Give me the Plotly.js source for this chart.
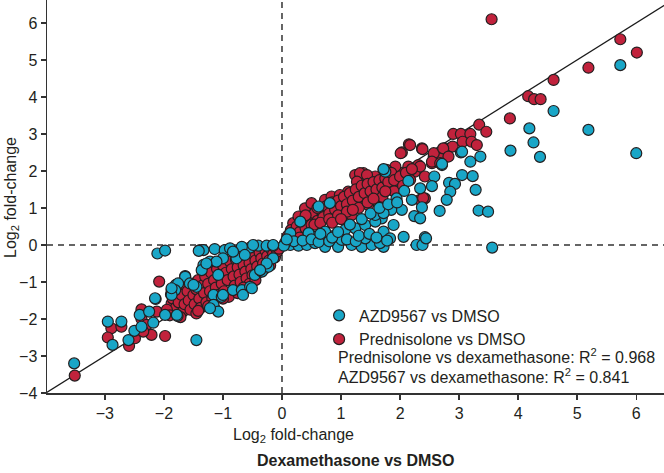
<!DOCTYPE html>
<html>
<head>
<meta charset="utf-8">
<script src="https://cdn.plot.ly/plotly-3.0.1.min.js"></script>
<style>html,body{margin:0;padding:0;background:#fff;}#chart{width:664px;height:473px;}</style>
</head>
<body>
<div id="chart"></div>
<script>
// Prednisolone vs DMSO (x = dexamethasone log2FC, y = prednisolone log2FC)
const predX = [-3.51,-2.89,-2.72,-2.95,-2.59,-2.49,-2.38,-2.38,-2.21,-1.98,-2.12,-2.29,-2.35,-1.84,-1.73,-1.78,-1.62,-1.62,-1.87,-2.08,
-1.85,-1.80,-1.75,-1.70,-1.68,-1.65,-1.60,-1.58,-1.55,-1.52,-1.50,-1.48,-1.45,-1.42,-1.40,-1.38,-1.35,-1.32,-1.30,-1.28,-1.25,-1.22,-1.20,-1.18,-1.15,-1.12,-1.10,-1.08,-1.05,-1.02,-1.00,-0.98,-0.95,-0.92,-0.90,-0.88,-0.85,-0.82,-0.80,-0.78,-0.75,-0.72,-0.70,-0.68,-0.65,-0.62,-0.60,-0.58,-0.55,-0.52,-0.50,-0.48,-0.45,-0.42,-0.40,-0.38,-0.35,-0.32,-0.30,-0.28,-0.25,-0.22,-0.20,-0.18,-0.15,-0.12,-0.10,-0.08,-0.05,-1.95,-1.90,-1.72,-1.45,-1.25,-1.00,-0.55,-0.45,-0.65,-0.75,-1.15,-1.42,
0.19,0.28,0.39,0.50,0.73,0.84,0.98,1.12,1.24,1.38,1.29,1.58,1.27,1.46,1.58,1.18,
1.63,1.80,1.72,1.92,1.86,2.03,2.25,2.14,2.31,2.42,2.54,2.57,2.71,2.03,2.15,2.37,2.76,2.89,2.90,3.03,3.19,3.06,3.21,3.30,2.42,1.63,
2.17,2.01,2.38,3.34,3.46,3.86,4.17,4.27,4.38,4.60,5.19,5.73,6.01,3.55,
2.57,2.73,2.82,2.54,2.68,2.34,1.92,1.77,1.32,1.44,1.27,2.34,2.17,2.00,1.72,2.39,
0.10,0.15,0.20,0.25,0.30,0.35,0.40,0.45,0.50,0.55,0.60,0.65,0.70,0.75,0.80,0.85,0.90,0.95,1.00,1.05,1.10,1.15,1.20,1.25,1.30,1.35,1.40,1.45,1.50,1.55,1.60,1.65,1.70,1.75,1.80,1.85,1.90,2.00,2.10,2.20,0.55,0.65,0.80,0.95,1.10,1.30,1.45,1.70,1.90,2.05,0.40,0.60,0.85,1.00,0.30,0.45,1.20,1.55,1.75];
const predY = [-3.53,-2.25,-2.21,-2.50,-2.73,-2.52,-1.74,-2.00,-2.43,-2.46,-1.80,-2.16,-2.34,-1.76,-1.49,-1.31,-1.40,-1.12,-1.58,-0.99,
-1.45,-1.70,-1.55,-1.35,-1.80,-1.60,-1.25,-1.50,-1.75,-1.05,-1.35,-1.60,-1.20,-0.95,-1.45,-1.70,-1.10,-1.30,-0.85,-1.55,-1.05,-1.25,-0.75,-1.45,-0.95,-1.15,-0.65,-1.35,-0.85,-1.05,-0.55,-1.25,-0.75,-0.95,-1.40,-0.45,-0.65,-0.85,-1.10,-0.40,-0.60,-0.80,-1.00,-0.35,-0.55,-0.72,-0.90,-0.30,-0.48,-0.65,-0.82,-0.25,-0.42,-0.58,-0.75,-0.20,-0.36,-0.50,-0.65,-0.15,-0.30,-0.42,-0.55,-0.12,-0.24,-0.34,-0.08,-0.18,-0.10,-1.75,-1.90,-1.95,-1.85,-1.65,-1.45,-1.05,-0.95,-1.15,-1.30,-1.70,-1.78,
0.59,0.77,0.99,1.13,1.22,1.31,1.35,1.44,1.89,1.94,1.71,1.85,1.17,1.08,1.31,0.81,
1.67,1.62,2.03,2.03,1.85,1.94,1.98,2.12,2.16,1.85,2.21,2.39,2.34,2.50,2.72,2.61,2.61,2.66,3.00,3.00,3.00,2.79,2.79,2.70,1.26,1.22,
2.70,2.48,2.59,3.25,3.06,3.42,4.02,3.94,3.94,4.46,4.79,5.56,5.20,6.10,
2.48,2.61,2.39,2.25,2.21,2.12,2.12,2.03,1.94,1.89,1.71,1.22,1.76,1.53,1.44,1.27,
0.25,0.40,0.30,0.50,0.35,0.60,0.45,0.75,0.55,0.85,0.65,0.95,0.75,1.05,0.85,1.15,0.95,1.20,1.05,1.30,1.10,1.40,1.20,1.50,1.30,1.60,1.40,1.65,1.45,1.70,1.50,1.75,1.55,1.80,1.70,1.95,1.75,1.85,1.95,2.05,0.55,0.60,0.70,0.80,0.90,1.00,1.15,1.30,1.45,1.60,0.80,1.00,0.60,0.70,0.20,0.30,0.95,1.25,1.45];

// AZD9567 vs DMSO
const azdX = [5.73,4.60,5.19,4.19,4.26,3.87,4.37,6.00,3.56,
3.03,3.19,3.36,2.71,2.58,3.05,3.23,1.75,2.14,2.34,2.54,2.83,2.93,2.85,2.79,3.28,2.67,3.33,3.49,2.07,1.94,2.20,2.37,2.24,2.34,2.03,1.85,1.69,1.89,1.69,1.72,2.06,2.42,2.28,2.38,1.83,1.72,2.44,2.71,3.05,1.72,
0.14,0.28,0.42,0.56,0.73,0.95,1.18,1.35,1.52,1.66,0.14,0.31,0.62,0.81,0.73,0.90,1.07,1.24,1.41,1.58,1.58,1.72,1.41,1.01,0.56,0.45,
0.20,0.35,0.50,0.62,0.80,0.85,1.10,1.25,1.30,1.48,1.60,1.78,0.65,0.95,1.15,1.35,1.50,1.65,1.80,1.95,0.05,0.03,0.08,
-2.11,-1.98,-3.52,-2.95,-2.72,-2.87,-2.60,-2.50,-2.38,-2.41,-2.25,-2.18,-2.14,-1.98,-1.88,-1.87,-1.77,-1.80,-1.64,-1.45,
-1.39,-1.33,-1.14,-0.97,-0.80,-0.54,-0.40,-0.26,-0.15,-0.49,-0.68,-0.88,-1.64,-1.76,-1.81,-1.87,-1.56,-1.45,-1.33,-1.22,-1.36,-1.16,-1.02,-1.16,-1.08,-1.78,-0.83,-0.68,-0.54,-0.46,-0.34,-0.23,-0.15,-0.77,-1.00,-0.63,-1.08,
-0.83,-0.15,-0.26,-0.37,-0.51,-0.66,-1.22,-1.00,-1.50,-1.87,-1.11,-1.28,-1.41,-2.15];
const azdY = [4.86,3.62,3.11,3.15,2.77,2.55,2.38,2.48,-0.07,
2.50,2.25,2.39,2.16,1.85,1.89,1.86,1.98,1.73,1.53,1.59,1.68,1.65,1.44,1.22,1.49,0.92,0.93,0.90,1.46,1.26,1.22,1.02,0.78,0.72,0.95,0.95,0.99,0.54,0.72,0.36,0.22,0.21,0.00,0.00,0.18,-0.05,0.18,2.19,2.52,2.05,
0.00,-0.02,0.00,0.05,-0.05,-0.05,0.00,-0.05,0.00,0.05,0.32,0.63,1.04,1.13,0.36,0.27,0.41,0.45,0.54,0.63,0.81,0.86,0.18,0.14,0.22,0.32,
0.10,0.12,0.15,0.08,0.10,0.20,0.15,0.10,0.25,0.30,0.20,0.12,0.30,0.35,0.55,0.70,0.85,1.00,1.10,1.15,0.05,-0.02,0.15,
-0.23,-0.15,-3.20,-2.07,-2.07,-2.70,-2.57,-2.32,-2.21,-1.89,-1.80,-2.10,-1.46,-1.89,-1.33,-1.22,-1.92,-1.08,-0.84,-2.57,
-0.14,-0.14,-0.11,-0.14,-0.18,-0.07,-0.02,-0.02,-0.02,0.00,-0.05,-0.09,-0.86,-1.04,-1.22,-1.35,-1.04,-1.13,-0.54,-0.45,-0.68,-1.35,-1.40,-1.62,-1.80,-1.89,-1.22,-1.22,-1.13,-0.81,-0.72,-0.59,-0.36,-0.36,-0.36,-0.27,-0.81,
-0.18,0.00,-0.50,-0.68,-1.17,-1.35,-1.71,-1.35,-1.08,-1.17,-0.45,-0.50,-0.16,-1.44];

// identity reference line
const diagX = [-4, 6.6];
const diagY = [-4, 6.6];

const xTicks = [-3,-2,-1,0,1,2,3,4,5,6];
const yTicks = [-4,-3,-2,-1,0,1,2,3,4,5,6];

const FONT = 'Liberation Sans, Arial, sans-serif';
const TXT = '#231f20';
const RED = '#c1223c';
const CYAN = '#19a6c7';

const traces = [
  {x: diagX, y: diagY, mode: 'lines', line: {color: '#1a1a1a', width: 1.3}, showlegend: false, hoverinfo: 'skip'},
  {x: predX, y: predY, mode: 'markers', name: 'Prednisolone vs DMSO',
   marker: {color: RED, size: 11, line: {color: '#231f20', width: 1.2}}},
  {x: azdX, y: azdY, mode: 'markers', name: 'AZD9567 vs DMSO',
   marker: {color: CYAN, size: 11, line: {color: '#231f20', width: 1.2}}}
];

const layout = {
  width: 664, height: 473,
  margin: {l: 47, r: 0, t: 0, b: 80},
  paper_bgcolor: '#fff', plot_bgcolor: '#fff',
  font: {family: FONT, size: 16, color: TXT},
  showlegend: true,
  legend: {x: 0.441, y: 0.093, xanchor: 'left', yanchor: 'bottom', traceorder: 'reversed',
           bgcolor: 'rgba(0,0,0,0)', font: {family: FONT, size: 16, color: TXT}, tracegroupgap: 0},
  xaxis: {range: [-3.98, 6.47], tickvals: xTicks, showgrid: false, zeroline: false,
          showline: true, linecolor: '#333', linewidth: 1.5, ticks: 'outside', ticklen: 5,
          tickcolor: '#333', tickwidth: 1.5, tickfont: {family: FONT, size: 16, color: TXT}},
  yaxis: {range: [-4, 6.62], tickvals: yTicks, showgrid: false, zeroline: false,
          showline: true, linecolor: '#333', linewidth: 1.5, ticks: 'outside', ticklen: 5,
          tickcolor: '#333', tickwidth: 1.5, tickfont: {family: FONT, size: 16, color: TXT}},
  shapes: [
    {type: 'line', xref: 'x', yref: 'paper', x0: 0, x1: 0, y0: 0, y1: 1, layer: 'below',
     line: {color: '#333', width: 1.5, dash: '6px,5px'}},
    {type: 'line', xref: 'paper', yref: 'y', x0: 0, x1: 1, y0: 0, y1: 0, layer: 'below',
     line: {color: '#333', width: 1.5, dash: '6px,5px'}}
  ],
  annotations: [
    {xref: 'paper', yref: 'paper', x: (336-47)/617, y: (393-356)/393, xanchor: 'left', yanchor: 'middle',
     showarrow: false, text: 'Prednisolone vs dexamethasone: R<sup>2</sup> = 0.968', font: {family: FONT, size: 16, color: TXT}},
    {xref: 'paper', yref: 'paper', x: (336-47)/617, y: (393-376)/393, xanchor: 'left', yanchor: 'middle',
     showarrow: false, text: 'AZD9567 vs dexamethasone: R<sup>2</sup> = 0.841', font: {family: FONT, size: 16, color: TXT}},
    {xref: 'paper', yref: 'paper', x: (293-47)/617, y: -(435-393)/393, xanchor: 'center', yanchor: 'middle',
     showarrow: false, text: 'Log<sub>2</sub> fold-change', font: {family: FONT, size: 16, color: TXT}},
    {xref: 'paper', yref: 'paper', x: (355-47)/617, y: -(460-393)/393, xanchor: 'center', yanchor: 'middle',
     showarrow: false, text: '<b>Dexamethasone vs DMSO</b>', font: {family: FONT, size: 16, color: TXT}},
    {xref: 'paper', yref: 'paper', x: -(47-12)/617, y: (393-198)/393, xanchor: 'center', yanchor: 'middle',
     textangle: -90, showarrow: false, text: 'Log<sub>2</sub> fold-change', font: {family: FONT, size: 16, color: TXT}}
  ]
};

Plotly.newPlot('chart', traces, layout, {displayModeBar: false, staticPlot: true});
</script>
</body>
</html>
